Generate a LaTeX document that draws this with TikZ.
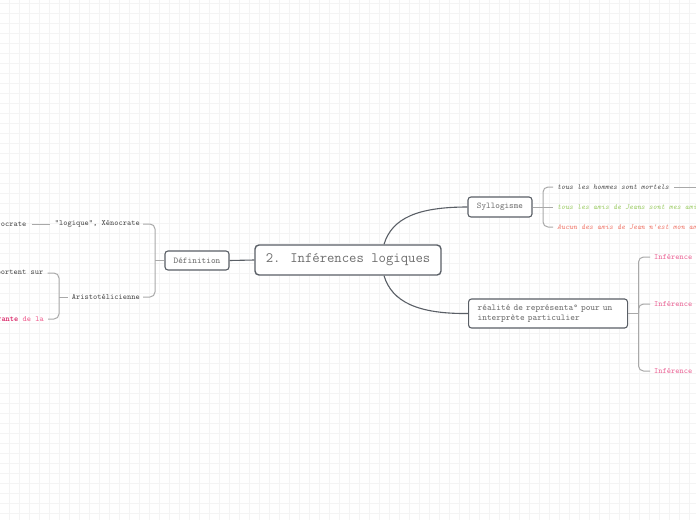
\documentclass[tikz,border=0pt]{standalone}
\definecolor{gridc}{HTML}{F4F4F4}
\definecolor{boxline}{HTML}{5A5F66}
\definecolor{brline}{HTML}{A9A9A9}
\definecolor{txtgray}{HTML}{6E6E6E}
\definecolor{txtdark}{HTML}{4E4E4E}
\definecolor{greentxt}{HTML}{9CCC65}
\definecolor{salmon}{HTML}{F0796C}
\definecolor{pinktxt}{HTML}{EC6A9A}
\definecolor{crimson}{HTML}{D81B60}
\definecolor{pinklight}{HTML}{F06292}
\tikzset{
  mainbox/.style={draw=boxline, line width=1.4pt, rounded corners=4pt, fill=white, text=txtgray, inner sep=0pt},
  subbox/.style={draw=boxline, line width=1.1pt, rounded corners=3pt, fill=white, text=txtgray, inner sep=0pt},
  leaf/.style={inner sep=0pt, text=txtdark, font=\ttfamily\fontsize{8}{9.6}\selectfont},
  conn/.style={draw=boxline, line width=1.1pt},
  br/.style={draw=brline, line width=1pt, rounded corners=5pt},
}
\begin{document}
\begin{tikzpicture}[x=1pt,y=-1pt]
\useasboundingbox (0,0) rectangle (696,520);
\clip (0,0) rectangle (696,520);
\fill[white] (0,0) rectangle (696,520);
\foreach \i in {9,19,...,695} \draw[gridc, line width=0.7pt] (\i,0) -- (\i,520);
\foreach \j in {3,13,...,519} \draw[gridc, line width=0.7pt] (0,\j) -- (696,\j);

% central
\node[mainbox, minimum width=186, minimum height=30, font=\ttfamily\fontsize{14.3}{17}\selectfont] (central) at (348,260) {2. Inférences logiques};

% left branch
\node[subbox, minimum width=64, minimum height=19, font=\ttfamily\fontsize{8.9}{10}\selectfont] (def) at (197,260.5) {Définition};
\node[leaf, anchor=east] (logique) at (140,224) {"logique", Xénocrate};
\node[leaf, anchor=east] (aristo) at (140,297) {Aristotélicienne};
\node[leaf, anchor=east] (ocrate) at (26.5,224) {ocrate};
\node[leaf, anchor=east] (portent) at (43.5,273) {portent sur};
\node[leaf, anchor=east] (rante) at (44,319) {\textbf{\color{crimson}rante} \color{pinklight}de la};

\draw[conn] (def.east) -- (central.west);
\coordinate (b1) at (155,260.5);
\draw[br] ([xshift=3]logique.east) -| (b1) |- ([xshift=3]aristo.east);
\draw[br] (b1) -- (def.west);
\draw[br] ([xshift=5]ocrate.east) -- ([xshift=-5]logique.west);
\coordinate (b2) at (59,297);
\draw[br] ([xshift=4]portent.east) -| (b2) |- ([xshift=4]rante.east);
\draw[br] (b2) -- ([xshift=-4]aristo.west);

% right branch: Syllogisme
\node[subbox, minimum width=64, minimum height=20, font=\ttfamily\fontsize{8.8}{10}\selectfont] (syl) at (500,207) {Syllogisme};
\draw[conn] ([xshift=36]central.north) .. controls (392,218) and (418,207) .. (syl.west);
\node[leaf, anchor=west, font=\ttfamily\itshape\fontsize{7.6}{9}\selectfont] (s1) at (557,187) {tous les hommes sont mortels};
\node[leaf, anchor=west, text=greentxt, font=\ttfamily\itshape\fontsize{7.6}{9}\selectfont] (s2) at (557,207) {tous les amis de Jeans sont mes amis};
\node[leaf, anchor=west, text=salmon, font=\ttfamily\itshape\fontsize{7.6}{9}\selectfont] (s3) at (557,227) {Aucun des amis de Jean n'est mon ami};
\coordinate (b3) at (543,207);
\draw[br] ([xshift=-4]s1.west) -| (b3) |- ([xshift=-4]s3.west);
\draw[br] (b3) -- ([xshift=-4]s2.west);
\draw[br] (syl.east) -- (b3);
\coordinate (offr) at (710,187);
\draw[br] ([xshift=5]s1.east) -- (offr);

% right branch: réalité
\node[subbox, minimum width=159, minimum height=29, align=left, anchor=west, text width=141, inner xsep=9pt, font=\ttfamily\fontsize{9}{10.5}\selectfont] (real) at (468,313.5) {réalité de représenta° pour un\\interprète particulier};
\draw[conn] ([xshift=36]central.south) .. controls (392,302) and (418,314) .. (real.west);
\node[leaf, anchor=west, text=pinktxt] (i1) at (654,257) {Inférence abductive};
\node[leaf, anchor=west, text=pinktxt] (i2) at (654,304) {Inférence abductive};
\node[leaf, anchor=west, text=pinktxt] (i3) at (654,371) {Inférence abductive};
\coordinate (b4) at (638.5,313.5);
\draw[br] ([xshift=-4]i1.west) -| (b4) |- ([xshift=-4]i3.west);
\draw[br] (real.east) -- (b4);
\draw[br] ([xshift=-4]i2.west) -| ([xshift=-15.5]i2.west |- b4);
\end{tikzpicture}
\end{document}
